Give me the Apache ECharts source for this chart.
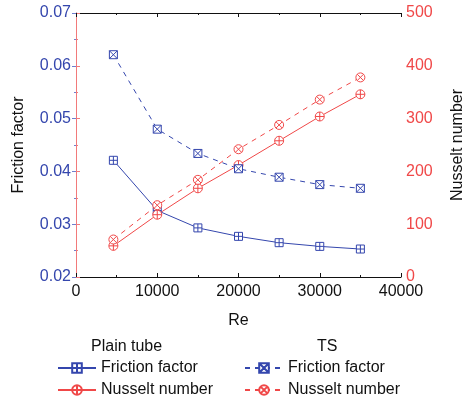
<!DOCTYPE html>
<html><head><meta charset="utf-8">
<script src="https://cdn.jsdelivr.net/npm/echarts@6/dist/echarts.min.js"></script>
<style>html,body{margin:0;padding:0;background:#fff}#c{width:464px;height:401px}</style>
</head><body><div id="c"></div>
<script>
const re = [4600, 10000, 15000, 20000, 25000, 30000, 35000];
const plainFriction = [0.0421, 0.0326, 0.0293, 0.0277, 0.0265, 0.0258, 0.0253];
const tsFriction = [0.0621, 0.0480, 0.0434, 0.0405, 0.0389, 0.0375, 0.0368];
const plainNusselt = [59, 118, 168, 212, 258, 304, 346];
const tsNusselt = [71, 136, 184, 242, 288, 336, 378];
const xTicks = [0, 10000, 20000, 30000, 40000];

const BLUE = '#3446ad', BLUE_AX = '#6f7fcc', RED = '#f04848', RED_AX = '#f27a7a';
const FONT = 'Liberation Sans, Arial, sans-serif';
const sqPlus = 'path://M0,0 L10,0 L10,10 L0,10 Z M5,0 L5,10 M0,5 L10,5';
const sqX = 'path://M0,0 L10,0 L10,10 L0,10 Z M0,0 L10,10 M10,0 L0,10';
const cPlus = 'path://M10,5 A5,5 0 1 1 0,5 A5,5 0 1 1 10,5 Z M5,0 L5,10 M0,5 L10,5';
const cX = 'path://M10,5 A5,5 0 1 1 0,5 A5,5 0 1 1 10,5 Z M1.46,1.46 L8.54,8.54 M8.54,1.46 L1.46,8.54';

function pairs(xs, ys){ return xs.map((x,i)=>[x, ys[i]]); }
function mk(name, data, yIdx, color, symbol, size, dashed){
  return {
    name, type:'line', yAxisIndex:yIdx, data, symbol, symbolSize:size,
    lineStyle:{color, width:1, type: dashed ? [5,5] : 'solid'},
    itemStyle:{color:'#fff', borderColor:color, borderWidth:1},
    emphasis:{disabled:true}, animation:false
  };
}
const chart = echarts.init(document.getElementById('c'));
const legendText = {fontSize:16, fontFamily:FONT, color:'#111'};
function lg(name, left, top){
  return {left, top, itemWidth:38, itemHeight:12, data:[name], selectedMode:false,
    formatter:n=>n.split('|')[1], textStyle:legendText, padding:0, itemGap:5};
}
chart.setOption({
  animation:false,
  textStyle:{fontFamily:FONT},
  grid:{left:76, right:63, top:13, bottom:124, outerBoundsMode:'none', containLabel:false},
  xAxis:[{
    type:'value', min:xTicks[0], max:xTicks[xTicks.length-1], interval:10000,
    name:'Re', nameLocation:'middle', nameGap:36,
    nameTextStyle:{fontSize:16, color:'#111', fontFamily:FONT},
    axisLine:{lineStyle:{color:'#111', width:1}},
    axisTick:{inside:true, length:4, lineStyle:{color:'#111'}},
    minorTick:{show:true, splitNumber:2, length:2, lineStyle:{color:'#111'}},
    axisLabel:{fontSize:16, color:'#111', fontFamily:FONT, margin:7, formatter:v=>String(v)},
    splitLine:{show:false}
  },{
    type:'value', position:'top', min:0, max:40000, interval:10000,
    axisLine:{show:true, lineStyle:{color:'#111', width:1}},
    axisTick:{inside:true, length:4, lineStyle:{color:'#111'}},
    minorTick:{show:true, splitNumber:2, length:2, lineStyle:{color:'#111'}},
    axisLabel:{show:false}, splitLine:{show:false}
  }],
  yAxis:[{
    type:'value', min:0.02, max:0.07, interval:0.01, position:'left',
    name:'Friction factor', nameLocation:'middle', nameGap:49, nameRotate:90,
    nameTextStyle:{fontSize:16, color:'#111', fontFamily:FONT},
    axisLine:{show:true, lineStyle:{color:BLUE_AX, width:1}},
    axisTick:{show:true, length:4, lineStyle:{color:BLUE_AX}},
    minorTick:{show:true, splitNumber:2, length:2, lineStyle:{color:BLUE_AX}},
    axisLabel:{fontSize:16, color:BLUE, fontFamily:FONT, margin:5, formatter:v=>v.toFixed(2)},
    splitLine:{show:false}
  },{
    type:'value', min:0, max:500, interval:100, position:'right',
    name:'Nusselt number', nameLocation:'middle', nameGap:49, nameRotate:90,
    nameTextStyle:{fontSize:16, color:'#111', fontFamily:FONT},
    axisLine:{show:true, lineStyle:{color:RED_AX, width:1}},
    axisTick:{show:true, length:4, lineStyle:{color:RED_AX}},
    minorTick:{show:true, splitNumber:2, length:2, lineStyle:{color:RED_AX}},
    axisLabel:{fontSize:16, color:RED, fontFamily:FONT, margin:5},
    splitLine:{show:false}
  }],
  legend:[
    lg('P|Friction factor', 57, 360),
    lg('P|Nusselt number', 57, 382),
    lg('T|Friction factor', 244, 360),
    lg('T|Nusselt number', 244, 382)
  ],
  graphic:[
    {type:'text', left:91, top:339, style:{text:'Plain tube', fontSize:16, fontFamily:FONT, fill:'#111'}},
    {type:'text', left:317, top:339, style:{text:'TS', fontSize:16, fontFamily:FONT, fill:'#111'}}
  ],
  series:[
    mk('P|Friction factor', pairs(re, plainFriction), 0, BLUE, sqPlus, 8, false),
    mk('P|Nusselt number', pairs(re, plainNusselt), 1, RED, cPlus, 9, false),
    mk('T|Friction factor', pairs(re, tsFriction), 0, BLUE, sqX, 8, true),
    mk('T|Nusselt number', pairs(re, tsNusselt), 1, RED, cX, 9, true)
  ]
});
</script></body></html>
